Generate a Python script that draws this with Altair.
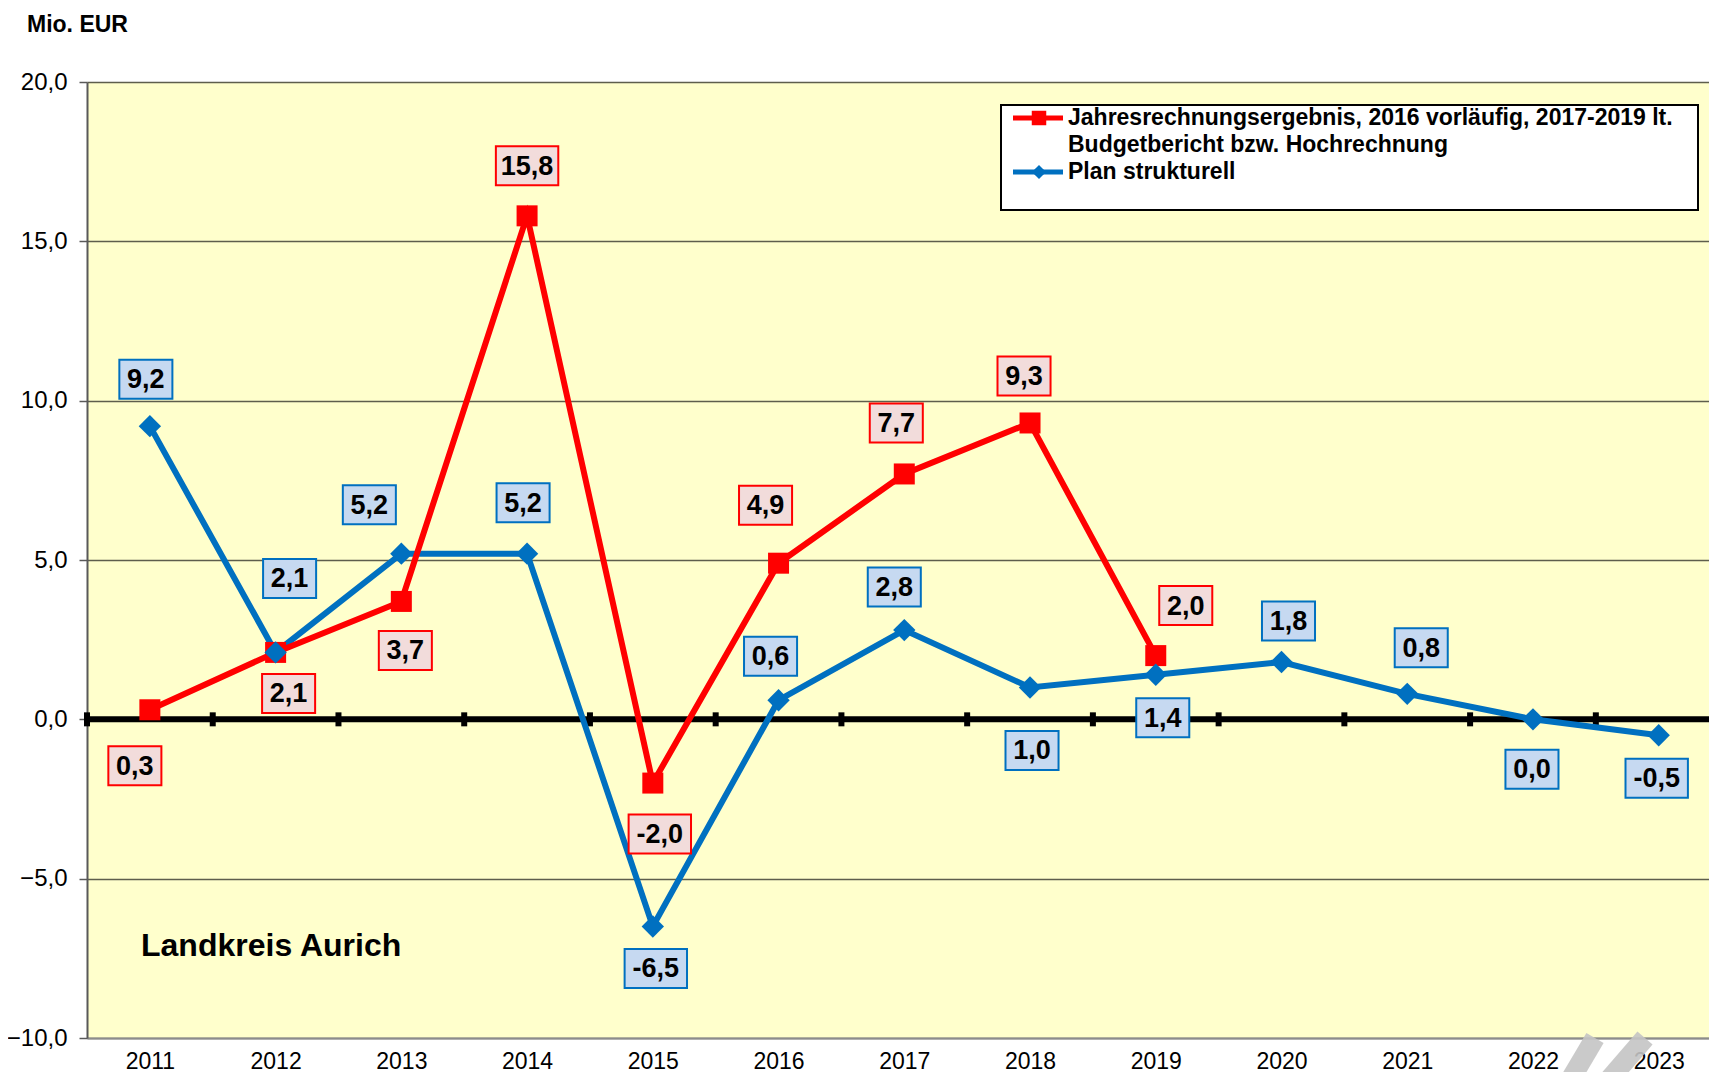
import altair as alt
import pandas as pd

# ---------------- data ----------------
years = list(range(2011, 2024))
red_name_lines = ["Jahresrechnungsergebnis, 2016 vorläufig, 2017-2019 lt.",
                  "Budgetbericht bzw. Hochrechnung"]
red_name = " ".join(red_name_lines)
blue_name = "Plan strukturell"

red_years = list(range(2011, 2020))
red_values = [0.3, 2.1, 3.7, 15.8, -2.0, 4.9, 7.7, 9.3, 2.0]
blue_years = years
blue_values = [9.2, 2.1, 5.2, 5.2, -6.5, 0.6, 2.8, 1.0, 1.4, 1.8, 0.8, 0.0, -0.5]

y_ticks = [-10, -5, 0, 5, 10, 15, 20]
zero_ticks = [2010.5, 2011.5, 2012.5, 2013.5, 2014.5, 2015.5, 2016.5,
              2017.5, 2018.5, 2019.5, 2020.5, 2021.5, 2022.5]

# label offsets (pixels, relative to the data point; +dy = downwards)
red_lab_dx = [-15, 13, 4, 0, 7, -13, -8, -6, 30]
red_lab_dy = [56, 41, 49, -50, 51, -58, -51, -47, -50]
blue_lab_dx = [-4, 14, -32, -4, 3, -8, -10, 2, 7, 7, 14, -1, -2]
blue_lab_dy = [-47, -74, -49, -51, 42, -44, -43, 63, 43, -41, -46, 50, 43]

# ---------------- layout ----------------
W, H = 1622, 956
X_DOMAIN = [2010.5, 2023.4]
Y_DOMAIN = [-10, 20]
PX_YEAR = W / (X_DOMAIN[1] - X_DOMAIN[0])
PX_UNIT = H / (Y_DOMAIN[1] - Y_DOMAIN[0])

FONT = "Liberation Sans, Arial, sans-serif"
RED, BLUE = "#FF0000", "#0070C0"
RED_FILL, BLUE_FILL = "#F2DCDB", "#C6D9F1"


def fmt(v):
    return f"{v:.1f}".replace(".", ",")


def series_df(name, ys, vals, dxs, dys):
    df = pd.DataFrame({"series": name, "year": ys, "value": vals})
    df["label"] = [fmt(v) for v in vals]
    df["nch"] = [str(min(max(len(s), 3), 4)) for s in df["label"]]
    df["lx"] = [y + dx / PX_YEAR for y, dx in zip(ys, dxs)]
    df["ly"] = [v - dy / PX_UNIT for v, dy in zip(vals, dys)]
    return df


red_df = series_df(red_name, red_years, red_values, red_lab_dx, red_lab_dy)
blue_df = series_df(blue_name, blue_years, blue_values, blue_lab_dx, blue_lab_dy)

x_scale = alt.Scale(domain=X_DOMAIN, nice=False, zero=False)
y_scale = alt.Scale(domain=Y_DOMAIN, nice=False, zero=False)

x_axis = alt.Axis(values=years, format="d", grid=False, ticks=False, tickSize=0,
                  domainColor="#8c8c8c", domainWidth=2, labelPadding=12,
                  labelFontSize=23, title=None)
y_axis = alt.Axis(values=y_ticks,
                  labelExpr="replace(format(datum.value, '.1f'), '.', ',')",
                  tickSize=8, tickColor="#595959", tickWidth=1.5,
                  domainColor="#595959", domainWidth=2,
                  grid=True, gridColor="#5e5e4c", gridWidth=1.3,
                  labelPadding=12, labelFontSize=24, title=None)


def X(field):
    return alt.X(field, type="quantitative", scale=x_scale, axis=x_axis)


def Y(field):
    return alt.Y(field, type="quantitative", scale=y_scale, axis=y_axis)


base_zero = alt.Chart(pd.DataFrame({"y": [0]}))
zero_line = base_zero.mark_rule(color="black", strokeWidth=6).encode(y=Y("y"))

ticks = alt.Chart(pd.DataFrame({"x": zero_ticks, "y": [0] * len(zero_ticks)})).mark_tick(
    orient="vertical", color="black", thickness=6, size=14, opacity=1
).encode(x=X("x"), y=Y("y"))


def line_layer(df, color):
    return alt.Chart(df).mark_line(color=color, strokeWidth=6).encode(
        x=X("year"), y=Y("value"))


red_line = line_layer(red_df, RED)
blue_line = line_layer(blue_df, BLUE)

red_pts = alt.Chart(red_df).mark_point(shape="square", filled=True, size=441,
                                        color=RED, opacity=1).encode(
    x=X("year"), y=Y("value"))
blue_pts = alt.Chart(blue_df).mark_point(shape="diamond", filled=True, size=500,
                                          color=BLUE, opacity=1).encode(
    x=X("year"), y=Y("value"))

box3 = "M-1.36,-1L1.36,-1L1.36,1L-1.36,1Z"
box4 = "M-1.6,-1L1.6,-1L1.6,1L-1.6,1Z"


def label_layers(df, fill, stroke):
    boxes = alt.Chart(df).mark_point(filled=False, fill=fill, fillOpacity=1,
                                     stroke=stroke, strokeWidth=2, opacity=1,
                                     size=1521).encode(
        x=X("lx"), y=Y("ly"),
        shape=alt.Shape("nch:N", scale=alt.Scale(domain=["3", "4"], range=[box3, box4]),
                        legend=None))
    texts = alt.Chart(df).mark_text(font=FONT, fontSize=27, fontWeight="bold",
                                    color="black", baseline="middle", align="center",
                                    dy=1).encode(
        x=X("lx"), y=Y("ly"), text="label:N")
    return boxes + texts


red_labels = label_layers(red_df, RED_FILL, RED)
blue_labels = label_layers(blue_df, BLUE_FILL, BLUE)

# ---------------- decorations (legend box, titles, watermark) ----------------
one = alt.Chart(pd.DataFrame({"a": [0]}))

legend_box = one.mark_rect(fill="white", stroke="black", strokeWidth=2).encode(
    x=alt.value(914), x2=alt.value(1611), y=alt.value(23), y2=alt.value(128))

leg_red_line = one.mark_rule(color=RED, strokeWidth=5).encode(
    x=alt.value(926), x2=alt.value(976), y=alt.value(36))
leg_blue_line = one.mark_rule(color=BLUE, strokeWidth=5).encode(
    x=alt.value(926), x2=alt.value(976), y=alt.value(90))
leg_red_pt = one.mark_point(shape="square", filled=True, size=210, color=RED, opacity=1).encode(
    x=alt.value(952), y=alt.value(36))
leg_blue_pt = one.mark_point(shape="diamond", filled=True, size=200, color=BLUE, opacity=1).encode(
    x=alt.value(952), y=alt.value(90))

leg_texts = []
for i, t in enumerate(red_name_lines + [blue_name]):
    leg_texts.append(one.mark_text(font=FONT, fontSize=23, fontWeight="bold", color="black",
                                   align="left", baseline="middle", text=t).encode(
        x=alt.value(981), y=alt.value(36 + 27 * i)))

unit_title = one.mark_text(font=FONT, fontSize=23, fontWeight="bold", color="black",
                           align="left", baseline="middle", text="Mio. EUR").encode(
    x=alt.value(-60), y=alt.value(-57))

region_title = one.mark_text(font=FONT, fontSize=32, fontWeight="bold", color="black",
                             align="left", baseline="middle", text="Landkreis Aurich").encode(
    x=alt.value(54), y=alt.value(864))

wm1 = one.mark_rule(color="#c4c4c4", strokeWidth=20, opacity=0.9).encode(
    x=alt.value(1482), x2=alt.value(1508), y=alt.value(1000), y2=alt.value(956))
wm2 = one.mark_rule(color="#c4c4c4", strokeWidth=20, opacity=0.9).encode(
    x=alt.value(1520), x2=alt.value(1558), y=alt.value(1000), y2=alt.value(956))

chart = alt.layer(
    zero_line, ticks, wm1, wm2,
    blue_line, red_line, red_pts, blue_pts,
    red_labels, blue_labels,
    legend_box, leg_red_line, leg_blue_line, leg_red_pt, leg_blue_pt, *leg_texts,
    unit_title, region_title,
).properties(
    width=W, height=H,
    padding={"left": 79, "top": 74, "right": 0, "bottom": 34},
    autosize=alt.AutoSizeParams(type="none"),
).configure_view(
    fill="#FFFFCC", strokeWidth=0
).configure_axis(
    labelFont=FONT, labelColor="black"
)

chart.save("out.html", embed_options={"renderer": "svg", "actions": False})
